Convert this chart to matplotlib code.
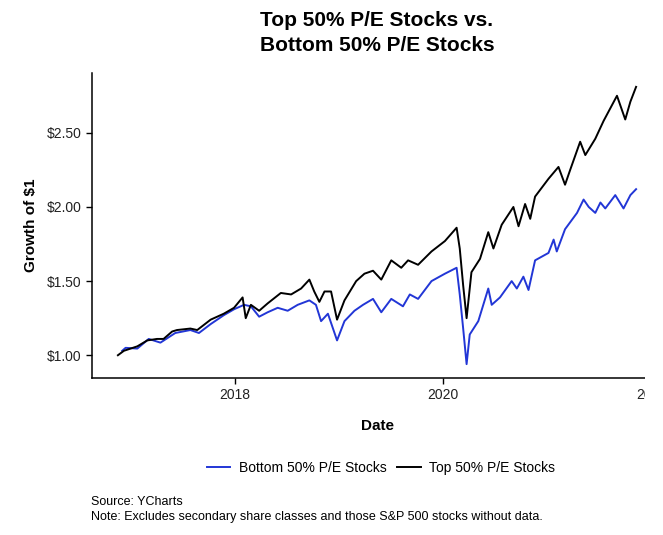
import pandas as pd
import matplotlib
matplotlib.use('Agg')
import matplotlib.pyplot as plt
import matplotlib.dates as mdates
from matplotlib.patches import Rectangle
from matplotlib.ticker import FuncFormatter

plt.rcParams['font.family'] = ['Liberation Sans', 'DejaVu Sans']

# Top 50% P/E
top_dates = ['2016-11-17', '2016-12-08', '2017-01-24', '2017-02-28', '2017-04-03',
             '2017-04-26', '2017-05-26', '2017-06-12', '2017-07-29', '2017-08-22',
             '2017-10-08', '2017-11-23', '2017-12-29', '2018-01-28', '2018-02-08',
             '2018-02-26', '2018-03-27', '2018-04-26', '2018-06-11', '2018-07-17',
             '2018-08-21', '2018-09-19', '2018-10-06', '2018-10-24', '2018-11-11',
             '2018-12-04', '2018-12-25', '2019-01-20', '2019-03-02', '2019-03-31',
             '2019-04-30', '2019-05-29', '2019-07-03', '2019-08-07', '2019-08-31',
             '2019-10-05', '2019-11-21', '2020-01-07', '2020-02-17', '2020-02-28',
             '2020-03-11', '2020-03-23', '2020-04-09', '2020-05-09', '2020-06-07',
             '2020-06-25', '2020-07-24', '2020-09-03', '2020-09-21', '2020-10-14',
             '2020-11-01', '2020-11-18', '2021-01-04', '2021-02-08', '2021-03-03',
             '2021-03-21', '2021-04-25', '2021-05-13', '2021-06-17', '2021-07-16',
             '2021-09-01', '2021-09-30', '2021-10-18', '2021-11-07']
top_vals = [1.00, 1.03, 1.06, 1.10, 1.11, 1.11, 1.16, 1.17, 1.18, 1.17,
            1.24, 1.28, 1.32, 1.39, 1.25, 1.34, 1.30, 1.35, 1.42, 1.41,
            1.45, 1.51, 1.43, 1.36, 1.43, 1.43, 1.24, 1.37, 1.50, 1.55,
            1.57, 1.51, 1.64, 1.59, 1.64, 1.61, 1.70, 1.77, 1.86, 1.72,
            1.47, 1.25, 1.56, 1.65, 1.83, 1.72, 1.88, 2.00, 1.87, 2.02,
            1.92, 2.07, 2.19, 2.27, 2.15, 2.25, 2.44, 2.35, 2.46, 2.58,
            2.75, 2.59, 2.71, 2.81]

# Bottom 50% P/E
bot_dates = ['2016-12-02', '2016-12-14', '2017-01-24', '2017-03-05', '2017-04-15',
             '2017-06-06', '2017-07-29', '2017-08-28', '2017-10-08', '2017-11-23',
             '2017-12-29', '2018-02-02', '2018-02-26', '2018-03-27', '2018-04-26',
             '2018-05-31', '2018-07-05', '2018-08-09', '2018-09-19', '2018-10-12',
             '2018-10-30', '2018-11-23', '2018-12-25', '2019-01-20', '2019-02-24',
             '2019-03-26', '2019-04-30', '2019-05-29', '2019-07-03', '2019-08-13',
             '2019-09-06', '2019-10-05', '2019-11-21', '2020-01-07', '2020-02-17',
             '2020-02-28', '2020-03-11', '2020-03-23', '2020-04-03', '2020-05-03',
             '2020-06-07', '2020-06-19', '2020-07-18', '2020-08-28', '2020-09-15',
             '2020-10-08', '2020-10-26', '2020-11-18', '2021-01-04', '2021-01-22',
             '2021-02-02', '2021-03-03', '2021-04-14', '2021-05-07', '2021-05-25',
             '2021-06-17', '2021-07-05', '2021-07-22', '2021-08-26', '2021-09-24',
             '2021-10-18', '2021-11-07']
bot_vals = [1.03, 1.05, 1.045, 1.11, 1.085, 1.15, 1.17, 1.15, 1.21, 1.27,
            1.31, 1.34, 1.33, 1.26, 1.29, 1.32, 1.30, 1.34, 1.37, 1.34,
            1.23, 1.28, 1.10, 1.23, 1.30, 1.34, 1.38, 1.29, 1.38, 1.33,
            1.41, 1.38, 1.50, 1.55, 1.59, 1.41, 1.18, 0.94, 1.14, 1.23,
            1.45, 1.34, 1.39, 1.50, 1.45, 1.53, 1.44, 1.64, 1.69, 1.78,
            1.70, 1.85, 1.96, 2.05, 2.00, 1.96, 2.03, 1.99, 2.08, 1.99,
            2.08, 2.12]

top = pd.Series(top_vals, index=pd.to_datetime(top_dates))
bot = pd.Series(bot_vals, index=pd.to_datetime(bot_dates))

y_ticks = [1.0, 1.5, 2.0, 2.5]
x_ticks = ['2018-01-01', '2020-01-01', '2022-01-01']

fig = plt.figure(figsize=(6.63, 5.35), dpi=100)
ax = fig.add_axes([92 / 663, 1 - 378 / 535, 570 / 663, 305 / 535])

ax.plot(bot.index, bot.values, color='#2236d6', lw=1.4, label='Bottom 50% P/E Stocks')
ax.plot(top.index, top.values, color='black', lw=1.4, label='Top 50% P/E Stocks')

# ggplot style 5% expansion
t0 = min(top.index[0], bot.index[0])
t1 = max(top.index[-1], bot.index[-1])
pad = (t1 - t0) * 0.05
ax.set_xlim(t0 - pad, t1 + pad)
lo = min(top.min(), bot.min())
hi = max(top.max(), bot.max())
ax.set_ylim(lo - (hi - lo) * 0.05, hi + (hi - lo) * 0.05)

ax.set_xticks(pd.to_datetime(x_ticks))
ax.xaxis.set_major_formatter(mdates.DateFormatter('%Y'))
ax.set_yticks(y_ticks)
ax.yaxis.set_major_formatter(FuncFormatter(lambda v, p: f'${v:.2f}'))

for s in ['top', 'right']:
    ax.spines[s].set_visible(False)
for s in ['left', 'bottom']:
    ax.spines[s].set_linewidth(1.1)
ax.tick_params(length=4, width=1, colors='black', labelsize=10, labelcolor='#222222')

ax.set_xlabel('Date', fontsize=11, fontweight='bold', labelpad=12)
ax.set_ylabel('Growth of $1', fontsize=11, fontweight='bold', labelpad=6)

fig.text(377 / 663, 1 - 33 / 535, 'Top 50% P/E Stocks vs.\nBottom 50% P/E Stocks',
         ha='center', va='center', fontsize=15, fontweight='bold', linespacing=1.4)

fig.legend(loc='center', bbox_to_anchor=(381 / 663, 1 - 468 / 535), ncol=2,
           frameon=False, fontsize=10, handlelength=1.7, columnspacing=0.8,
           handletextpad=0.6)

fig.text(91 / 663, 1 - 502 / 535, 'Source: YCharts', fontsize=9, va='center')
fig.text(91 / 663, 1 - 517 / 535,
         'Note: Excludes secondary share classes and those S&P 500 stocks without data.',
         fontsize=9, va='center')

# the original image is cut off on the right
fig.patches.append(Rectangle((645 / 663, 0), 1, 1, transform=fig.transFigure,
                             facecolor='white', edgecolor='none', zorder=100))

fig.savefig('out.png', dpi=100)
